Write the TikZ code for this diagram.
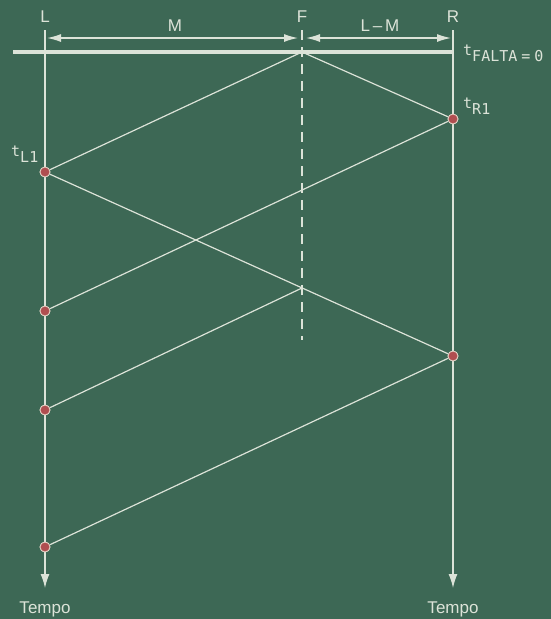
\documentclass[tikz,border=0pt]{standalone}
\usepackage{fontspec}
\setmainfont{Liberation Sans}
\newfontfamily\monof{DejaVu Sans Mono}
\usetikzlibrary{arrows.meta}
\definecolor{board}{HTML}{3D6855}
\definecolor{chalk}{HTML}{DCE3D8}
\definecolor{dotred}{HTML}{B04E50}
\definecolor{dotrim}{HTML}{E4D6C8}
\tikzset{
  wave/.style={draw=chalk, line width=1.2pt},
  reddot/.style={circle, fill=dotred, draw=dotrim, line width=0.8pt, minimum size=10pt, inner sep=0pt},
  lbl/.style={text=chalk, font=\fontsize{17}{19}\selectfont, inner sep=0pt},
  tlbl/.style={text=chalk, font=\monof\fontsize{15}{17}\selectfont, inner sep=0pt},
  dimarrow/.style={draw=chalk, line width=1.3pt, {Latex[length=14pt,width=8pt]}-{Latex[length=14pt,width=8pt]}},
  timearrow/.style={draw=chalk, line width=1.3pt, -{Latex[length=14pt,width=9pt]}},
}
\begin{document}
\begin{tikzpicture}[x=1pt,y=-1pt]
\fill[board] (0,0) rectangle (551,619);
\useasboundingbox (0,0) rectangle (551,619);
% labels
\node[lbl] (lL) at (45,17) {L};
\node[lbl] (lF) at (302,17) {F};
\node[lbl] (lR) at (453,17) {R};
\node[lbl] (lM) at (175,26) {M};
\node[lbl] (lLM) at (380,26) {L\,–\,M};
% coordinates
\coordinate (Ltop) at (45,30);
\coordinate (Lbot) at (45,588);
\coordinate (Rtop) at (453,30);
\coordinate (Rbot) at (453,588);
\coordinate (Ftop) at (302,30);
\coordinate (Fbot) at (302,340);
\coordinate (F0) at (302,52);
\coordinate (Fx) at (302,288);
\coordinate (hl) at (13,52);
\coordinate (hr) at (453,52);
\coordinate (dL) at (47,38);
\coordinate (dF1) at (298,38);
\coordinate (dF2) at (306,38);
\coordinate (dR) at (451,38);
% time axes
\draw[timearrow] (Ltop) -- (Lbot);
\draw[timearrow] (Rtop) -- (Rbot);
\draw[draw=chalk, line width=1.3pt, dash pattern=on 10pt off 7pt] (Ftop) -- (Fbot);
% fault time line
\draw[draw=chalk, line width=3.5pt] (hl) -- (hr);
% dimensions
\draw[dimarrow] (dL) -- (dF1);
\draw[dimarrow] (dF2) -- (dR);
% dots
\node[reddot] (L1) at (45,172) {};
\node[reddot] (L2) at (45,311) {};
\node[reddot] (L3) at (45,410) {};
\node[reddot] (L4) at (45,547) {};
\node[reddot] (R1) at (453,119) {};
\node[reddot] (R2) at (453,356) {};
% travelling waves
\draw[wave] (F0) -- (L1);
\draw[wave] (F0) -- (R1);
\draw[wave] (R1) -- (L2);
\draw[wave] (L1) -- (R2);
\draw[wave] (L3) -- (Fx);
\draw[wave] (R2) -- (L4);
% redraw dots on top
\node[reddot] at (L1) {};
\node[reddot] at (L2) {};
\node[reddot] at (L3) {};
\node[reddot] at (L4) {};
\node[reddot] at (R1) {};
\node[reddot] at (R2) {};
% time labels
\node[tlbl, anchor=base west] (tF) at (463,55) {t\raisebox{-6pt}{FALTA\hspace{4pt}=\hspace{4pt}0}};
\node[tlbl, anchor=base west] (tR) at (463,108) {t\raisebox{-6pt}{R1}};
\node[tlbl, anchor=base west] (tL) at (11,156) {t\raisebox{-6pt}{L1}};
\node[lbl] (tempoL) at (45,609) {Tempo};
\node[lbl] (tempoR) at (453,609) {Tempo};
\end{tikzpicture}
\end{document}
